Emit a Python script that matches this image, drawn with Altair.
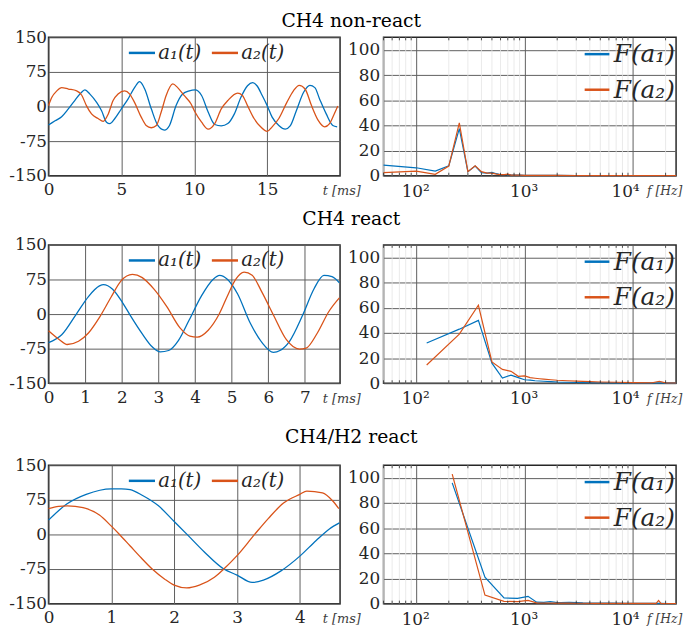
import altair as alt
import pandas as pd

BLUE = "#0072BD"
ORANGE = "#D95319"
FONT = "DejaVu Serif"
INK = "#262626"

row_titles = ["CH4 non-react", "CH4 react", "CH4/H2 react"]
time_names = ["a₁(t)", "a₂(t)"]
freq_names = ["F(a₁)", "F(a₂)"]

y_time_ticks = [-150, -75, 0, 75, 150]
y_freq_ticks = [0, 20, 40, 60, 80, 100]
x_freq_ticks = [100, 1000, 10000]
x_freq_labels = ["10²", "10³", "10⁴"]
freq_minor = [50, 60, 70, 80, 90, 200, 300, 400, 500, 600, 700, 800, 900,
              2000, 3000, 4000, 5000, 6000, 7000, 8000, 9000, 20000]

# ---------------- Row 1 : CH4 non-react ----------------
r1_xmax = 20
r1_xticks = [0, 5, 10, 15]
r1_a1_t = [0, 0.45, 0.9, 1.36, 1.8, 2.27, 2.5, 2.84, 3.3, 3.64, 3.98, 4.2, 4.55, 5.0, 5.45,
           5.9, 6.25, 6.6, 7.05, 7.5, 7.95, 8.3, 8.75, 9.2, 9.66, 10.05, 10.5, 10.95, 11.4, 11.85,
           12.3, 12.75, 13.2, 13.65, 14.0, 14.3, 14.66, 15.0, 15.34, 15.8, 16.24, 16.58, 17.0, 17.5,
           17.93, 18.27, 18.6, 19.05, 19.5, 19.8]
r1_a1_v = [-40, -31, -22, -5, 13, 31, 36, 27, 9, -9, -34, -37, -26, -5, 16,
           41, 54, 38, -5, -41, -51, -41, 2, 27, 34, 36, 24, -12, -39, -42,
           -37, -16, 20, 45, 52, 45, 24, 2, -23, -41, -49, -42, -9, 31,
           46, 41, 16, -16, -41, -44]
r1_a2_t = [0, 0.23, 0.57, 0.9, 1.36, 1.93, 2.27, 2.6, 2.95, 3.4, 3.75, 4.1, 4.43, 4.77, 5.22,
           5.57, 5.9, 6.36, 6.7, 7.05, 7.4, 7.73, 8.07, 8.52, 8.86, 9.3, 9.77, 10.05, 10.5, 10.95,
           11.4, 11.85, 12.3, 12.97, 13.3, 13.65, 14.1, 14.55, 15.0, 15.34, 15.8, 16.35, 16.8, 17.2,
           17.6, 18.04, 18.5, 18.94, 19.28, 19.6, 19.84]
r1_a2_v = [2, 20, 34, 41, 38, 34, 25, 2, -16, -26, -32, -16, 13, 27, 34,
           27, 9, -23, -41, -46, -41, -12, 24, 49, 41, 24, 6, -12, -34, -49,
           -37, -5, 13, 29, 24, 2, -26, -44, -54, -44, -26, 9, 34, 46,
           38, 2, -30, -44, -37, -16, 1]
r1_f = [50, 100, 150, 200, 250, 300, 350, 400, 450, 500, 550, 600, 650, 700, 750, 800, 900,
        1000, 1200, 1500, 2000, 3000, 5000, 10000, 25000]
r1_F1 = [8.4, 6.3, 3.7, 7.9, 37.5, 3.2, 7.6, 2.4, 2.0, 2.6, 1.6, 0.8, 0.8, 0.8, 0.6, 0.5, 0.4,
         0.3, 0.3, 0.2, 0.2, 0.1, 0.1, 0.1, 0.1]
r1_F2 = [2.4, 3.7, 1.1, 7.7, 42.0, 3.2, 7.9, 3.2, 2.1, 2.1, 1.3, 0.9, 0.8, 1.3, 0.5, 0.4, 0.4,
         0.3, 0.3, 0.2, 0.2, 0.1, 0.1, 0.1, 0.1]

# ---------------- Row 2 : CH4 react ----------------
r2_xmax = 7.96
r2_xticks = [0, 1, 2, 3, 4, 5, 6, 7]
r2_a1_t = [0, 0.36, 0.76, 1.09, 1.39, 1.5, 1.75, 2.02, 2.24, 2.56, 2.83, 3.05, 3.28, 3.55, 3.84,
           4.18, 4.49, 4.67, 4.89, 5.16, 5.51, 5.83, 6.14, 6.32, 6.58, 6.94, 7.25, 7.52, 7.74, 7.94]
r2_a1_v = [-62, -45, 0, 38, 61, 64, 54, 25, -4, -43, -71, -82, -79, -57, -13,
           40, 75, 84, 75, 44, -20, -62, -83, -79, -59, -2, 55, 84, 81, 68]
r2_a2_t = [0, 0.29, 0.51, 0.82, 1.09, 1.4, 1.71, 1.98, 2.29, 2.56, 2.88, 3.23, 3.59, 3.86, 4.06,
           4.36, 4.66, 4.9, 5.1, 5.34, 5.56, 5.83, 6.14, 6.49, 6.85, 7.03, 7.34, 7.65, 7.94]
r2_a2_v = [-36, -55, -66, -59, -41, -6, 37, 72, 86, 79, 54, 16, -30, -48, -50,
           -35, 0, 42, 74, 91, 84, 47, -2, -55, -76, -74, -41, 5, 35]
r2_f = [125, 250, 375, 500, 625, 750, 875, 1000, 1125, 1250, 1375, 1500, 1750, 2000, 2500,
        3000, 4000, 5000, 7000, 10000, 15000, 17500, 20000, 25000]
r2_F1 = [32, 43, 50, 16, 4.2, 6.5, 4.5, 2.8, 2.5, 2.0, 1.8, 1.6, 1.3, 1.0, 0.8,
         0.6, 0.5, 0.4, 0.3, 0.2, 0.2, 0.2, 0.1, 0.1]
r2_F2 = [14.5, 39, 62, 17, 11, 9.5, 5.5, 5.8, 4.5, 4.0, 3.6, 3.3, 2.8, 2.4, 2.0,
         1.7, 1.3, 1.0, 0.8, 0.5, 0.4, 1.6, 0.3, 0.2]

# ---------------- Row 3 : CH4/H2 react ----------------
r3_xmax = 4.64
r3_xticks = [0, 1, 2, 3, 4]
r3_a1_t = [0, 0.29, 0.6, 1.0, 1.16, 1.3, 1.49, 1.75, 2.0, 2.22, 2.48, 2.79, 3.0, 3.24, 3.42,
           3.7, 4.0, 4.26, 4.47, 4.63]
r3_a1_v = [31, 66, 87, 99, 99, 97, 85, 62, 28, -2, -38, -75, -88, -104, -99,
           -79, -47, -13, 12, 25]
r3_a2_t = [0, 0.16, 0.3, 0.55, 0.81, 1.0, 1.13, 1.3, 1.47, 1.65, 1.85, 2.0, 2.2, 2.4, 2.64,
           2.79, 3.0, 3.28, 3.5, 3.74, 4.0, 4.11, 4.36, 4.52, 4.62]
r3_a2_v = [56, 61, 62, 58, 42, 18, 0, -25, -50, -75, -97, -110, -116, -110, -93,
           -75, -46, 0, 35, 68, 87, 94, 90, 73, 56]
r3_f = [215, 431, 646, 862, 1077, 1293, 1508, 1724, 1940, 2155, 2586, 3017, 3448, 4310,
        6465, 8620, 12930, 16380, 17240, 18100, 21550, 25000]
r3_F1 = [96, 21, 4.5, 4.2, 5.8, 1.2, 1.0, 1.6, 1.0, 0.8, 1.0, 0.8, 0.6, 0.5,
         0.4, 0.3, 0.2, 0.2, 0.2, 0.2, 0.1, 0.1]
r3_F2 = [103, 6.8, 1.8, 1.6, 2.6, 0.6, 0.5, 0.5, 0.4, 0.4, 0.4, 0.3, 0.3, 0.2,
         0.2, 0.2, 0.2, 0.2, 2.5, 0.2, 0.1, 0.1]

LW, LH = 295, 140
RW, RH = 296, 140


def time_panel(t1, v1, t2, v2, xmax, xticks):
    df = pd.DataFrame({
        "t": list(t1) + list(t2),
        "v": list(v1) + list(v2),
        "s": [time_names[0]] * len(t1) + [time_names[1]] * len(t2),
    })
    return alt.Chart(df).mark_line(strokeWidth=1.3, interpolate="monotone").encode(
        x=alt.X("t:Q", scale=alt.Scale(domain=[0, xmax], nice=False, zero=False),
                axis=alt.Axis(values=xticks, title="t [ms]", titleX=LW - 18, titleY=19,
                              titleAlign="left", titleBaseline="alphabetic",
                              titleFontStyle="italic", titleFontWeight="normal",
                              titleFontSize=13, titleColor="#404040",
                              labelPadding=6, labelExpr="datum.value + ''")),
        y=alt.Y("v:Q", scale=alt.Scale(domain=[-150, 150], nice=False),
                axis=alt.Axis(values=y_time_ticks, title=None, labelPadding=2,
                              labelExpr="datum.value + ''")),
        color=alt.Color("s:N", scale=alt.Scale(domain=time_names, range=[BLUE, ORANGE]),
                        legend=alt.Legend(title=None, orient="none", legendX=80, legendY=1,
                                          direction="horizontal", symbolType="stroke",
                                          symbolSize=700, symbolStrokeWidth=2.5,
                                          labelFontSize=20, labelFontStyle="italic",
                                          labelOffset=2, columnPadding=5, padding=0)),
    ).properties(width=LW, height=LH)


def freq_panel(f, F1, F2):
    df = pd.DataFrame({
        "f": list(f) + list(f),
        "m": list(F1) + list(F2),
        "s": [freq_names[0]] * len(f) + [freq_names[1]] * len(f),
    })
    minor = pd.DataFrame({"f": freq_minor})
    xscale = alt.Scale(type="log", domain=[50, 25000], nice=False)
    label_expr = " : ".join(
        [f"datum.value == {v} ? '{l}'" for v, l in zip(x_freq_ticks, x_freq_labels)]) + " : ''"
    xaxis = alt.Axis(values=x_freq_ticks, labelExpr=label_expr, title="f [Hz]",
                     titleX=RW - 30, titleY=19, titleAlign="left",
                     titleBaseline="alphabetic", titleFontStyle="italic",
                     titleFontWeight="normal", titleFontSize=12.5,
                     titleColor="#404040", labelPadding=8,
                     labelOffset={"condition": {"test": f"datum.value == {x_freq_ticks[-1]}",
                                                "value": -8},
                                  "value": -1})
    grid = alt.Chart(minor).mark_rule(color="#e4e4e4", strokeWidth=0.8).encode(
        x=alt.X("f:Q", scale=xscale, axis=xaxis))
    lines = alt.Chart(df).mark_line(strokeWidth=1.2).encode(
        x=alt.X("f:Q", scale=xscale, axis=xaxis),
        y=alt.Y("m:Q", scale=alt.Scale(domain=[0, 110], nice=False),
                axis=alt.Axis(values=y_freq_ticks, title=None, labelPadding=4)),
        color=alt.Color("s:N", scale=alt.Scale(domain=freq_names, range=[BLUE, ORANGE]),
                        legend=alt.Legend(title=None, orient="none", legendX=202, legendY=3,
                                          direction="vertical", symbolType="stroke",
                                          symbolSize=625, symbolStrokeWidth=2.5,
                                          labelFontSize=25, labelFontStyle="italic",
                                          labelOffset=3, rowPadding=9, padding=0)),
    )
    ticks_top = alt.Chart(minor).mark_rule(color=INK, strokeWidth=0.8).encode(
        x=alt.X("f:Q", scale=xscale, axis=xaxis), y=alt.value(0), y2=alt.value(3))
    ticks_bot = alt.Chart(minor).mark_rule(color=INK, strokeWidth=0.8).encode(
        x=alt.X("f:Q", scale=xscale, axis=xaxis), y=alt.value(RH), y2=alt.value(RH - 3))
    return alt.layer(grid, lines, ticks_top, ticks_bot).properties(width=RW, height=RH)


def row(i, left, right, offset):
    return alt.hconcat(
        left, right, spacing=44, bounds="flush",
        title=alt.TitleParams(row_titles[i], font=FONT, fontSize=19, fontWeight="normal",
                              anchor="middle", offset=offset, dx=6, color="black"),
    ).resolve_scale(color="independent")


row1 = row(0, time_panel(r1_a1_t, r1_a1_v, r1_a2_t, r1_a2_v, r1_xmax, r1_xticks),
           freq_panel(r1_f, r1_F1, r1_F2), -3)
row2 = row(1, time_panel(r2_a1_t, r2_a1_v, r2_a2_t, r2_a2_v, r2_xmax, r2_xticks),
           freq_panel(r2_f, r2_F1, r2_F2), 6)
row3 = row(2, time_panel(r3_a1_t, r3_a1_v, r3_a2_t, r3_a2_v, r3_xmax, r3_xticks),
           freq_panel(r3_f, r3_F1, r3_F2), 9)

lower = alt.vconcat(row2, row3, spacing=20).resolve_scale(color="independent")
chart = alt.vconcat(row1, lower, spacing=10, padding=0).resolve_scale(color="independent")

chart = chart.configure(font=FONT).configure_view(
    stroke=INK, strokeWidth=1.5
).configure_axis(
    labelFont=FONT, labelFontSize=17, labelColor=INK, titleFont=FONT,
    grid=True, gridColor="#5e5e5e", gridWidth=1, domain=False, ticks=False,
    labelFlush=False, labelOverlap=False
).configure_legend(
    labelFont=FONT, labelColor=INK
)

chart.save("out.html", embed_options={"renderer": "svg", "actions": False})
